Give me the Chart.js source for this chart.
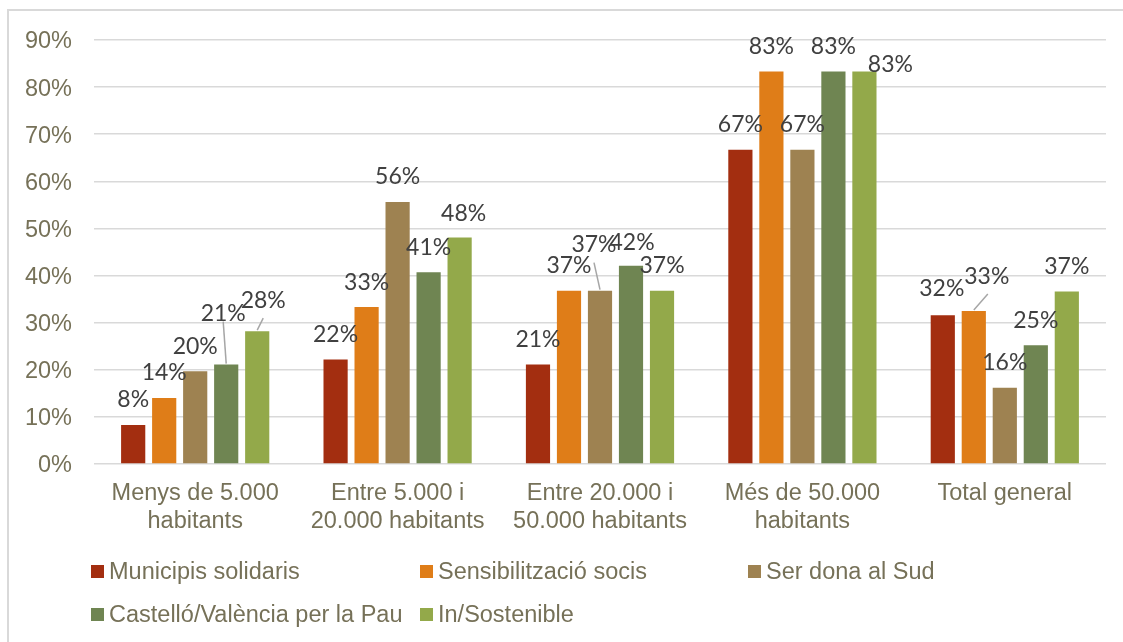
<!DOCTYPE html>
<html>
<head>
<meta charset="utf-8">
<title>Participació per grandària del municipi</title>
<script src="https://cdn.jsdelivr.net/npm/chart.js@4.4.1/dist/chart.umd.min.js"></script>
<style>
  html, body { margin: 0; padding: 0; background: #ffffff; }
  #wrap { position: relative; width: 1123px; height: 642px; overflow: hidden; background: #ffffff; }
  #frame { position: absolute; left: 7px; top: 9px; width: 1300px; height: 800px;
           border-top: 2px solid #d9d9d9; border-left: 2px solid #d9d9d9; }
  #chart { position: absolute; left: 0; top: 0; }
  #legend { position: absolute; left: 0; top: 0; width: 1123px; height: 642px; pointer-events: none;
            font-family: "Liberation Sans", Arial, sans-serif; font-size: 23.5px; color: #767158; }
  #legend .box { position: absolute; width: 13px; height: 13px; }
  #legend .txt { position: absolute; white-space: nowrap; line-height: 28px; }
</style>
</head>
<body>
<div id="wrap">
  <div id="frame"></div>
  <canvas id="chart" width="1123" height="642"></canvas>
  <div id="legend"></div>
</div>
<script>
// Categories (municipality size) and one series per programme, in percent
const categories = [
  ['Menys de 5.000', 'habitants'],
  ['Entre 5.000 i', '20.000 habitants'],
  ['Entre 20.000 i', '50.000 habitants'],
  ['Més de 50.000', 'habitants'],
  'Total general'
];
const seriesNames = [
  'Municipis solidaris',
  'Sensibilització socis',
  'Ser dona al Sud',
  'Castelló/València per la Pau',
  'In/Sostenible'
];
const municipisSolidaris   = [8.3, 22.2, 21.1, 66.7, 31.6];
const sensibilitzacioSocis = [14.0, 33.3, 36.8, 83.3, 32.5];
const serDonaAlSud         = [19.7, 55.6, 36.8, 66.7, 16.2];
const castelloValencia     = [21.1, 40.7, 42.1, 83.3, 25.2];
const inSostenible         = [28.2, 48.1, 36.8, 83.3, 36.6];
const yTicks = [0, 10, 20, 30, 40, 50, 60, 70, 80, 90];

const seriesValues = [municipisSolidaris, sensibilitzacioSocis, serDonaAlSud, castelloValencia, inSostenible];
const seriesColors = ['#a32e10', '#df7d18', '#9e8251', '#6f8552', '#93a94a'];

const textColor = '#767158';
const baseFont = { family: '"Liberation Sans", Arial, sans-serif', size: 23.5 };

// Per-label placement tweaks (dataset,index): offset from bar top, optional leader end
const labelNudge = {
  '3,0': { dx: -3, dy: -51, leader: [0, 8] },
  '4,0': { dx: 6, dy: -31, leader: [0, 18] },
  '4,1': { dx: 4, dy: -24 },
  '2,2': { dx: -6, dy: -46, leader: [0, 18] },
  '3,2': { dx: 1, dy: -23 },
  '4,3': { dx: 26, dy: -6.5 },
  '0,4': { dx: -1, dy: -27 },
  '1,4': { dx: 13, dy: -34, leader: [1, 17] }
};

const valueLabels = {
  id: 'valueLabels',
  afterDatasetsDraw(chart) {
    const ctx = chart.ctx;
    ctx.save();
    ctx.font = '23px Lato, "Open Sans", sans-serif';
    ctx.textAlign = 'center';
    ctx.textBaseline = 'middle';
    chart.data.datasets.forEach((ds, i) => {
      const meta = chart.getDatasetMeta(i);
      meta.data.forEach((bar, j) => {
        const n = labelNudge[i + ',' + j] || {};
        const dx = n.dx !== undefined ? n.dx : 0;
        const dy = n.dy !== undefined ? n.dy : -25;
        const lx = bar.x + dx;
        const ly = bar.y + dy;
        if (n.leader) {
          ctx.beginPath();
          ctx.strokeStyle = '#a6a6a6';
          ctx.lineWidth = 1.5;
          ctx.moveTo(bar.x, bar.y - 1);
          ctx.lineTo(lx + n.leader[0], ly + n.leader[1]);
          ctx.stroke();
        }
        ctx.fillStyle = '#404040';
        ctx.fillText(Math.round(ds.data[j]) + '%', lx, ly);
      });
    });
    ctx.restore();
  }
};

new Chart(document.getElementById('chart'), {
  type: 'bar',
  data: {
    labels: categories,
    datasets: seriesNames.map((name, i) => ({
      label: name,
      data: seriesValues[i],
      backgroundColor: seriesColors[i],
      borderWidth: 0,
      categoryPercentage: 0.766,
      barPercentage: 0.78
    }))
  },
  options: {
    responsive: false,
    animation: false,
    layout: { padding: { top: 40, left: 25, right: 17, bottom: 98 } },
    plugins: {
      legend: { display: false },
      tooltip: { enabled: false }
    },
    scales: {
      x: {
        grid: { display: false, drawTicks: false },
        border: { display: false },
        ticks: { color: textColor, font: baseFont, padding: 15, maxRotation: 0, autoSkip: false },
        afterFit(scale) { scale.height = 80; }
      },
      y: {
        min: 0,
        max: 90,
        afterBuildTicks(scale) { scale.ticks = yTicks.map(v => ({ value: v })); },
        grid: { color: '#d9d9d9', lineWidth: 1.5, drawTicks: false },
        border: { display: false },
        ticks: { color: textColor, font: baseFont, padding: 22, labelOffset: 2, callback: v => v + '%' },
        afterFit(scale) { scale.width = 69; }
      }
    }
  },
  plugins: [valueLabels]
});

// Legend laid out in fixed columns under the plot
const legendEl = document.getElementById('legend');
const legendCols = [91, 420, 748];
const legendRows = [571, 614];
seriesNames.forEach((name, i) => {
  const x = legendCols[i % 3];
  const y = legendRows[Math.floor(i / 3)];
  const box = document.createElement('div');
  box.className = 'box';
  box.style.left = x + 'px';
  box.style.top = (y - 6.5) + 'px';
  box.style.background = seriesColors[i];
  const txt = document.createElement('div');
  txt.className = 'txt';
  txt.style.left = (x + 18) + 'px';
  txt.style.top = (y - 14) + 'px';
  txt.textContent = name;
  legendEl.appendChild(box);
  legendEl.appendChild(txt);
});
</script>
</body>
</html>
